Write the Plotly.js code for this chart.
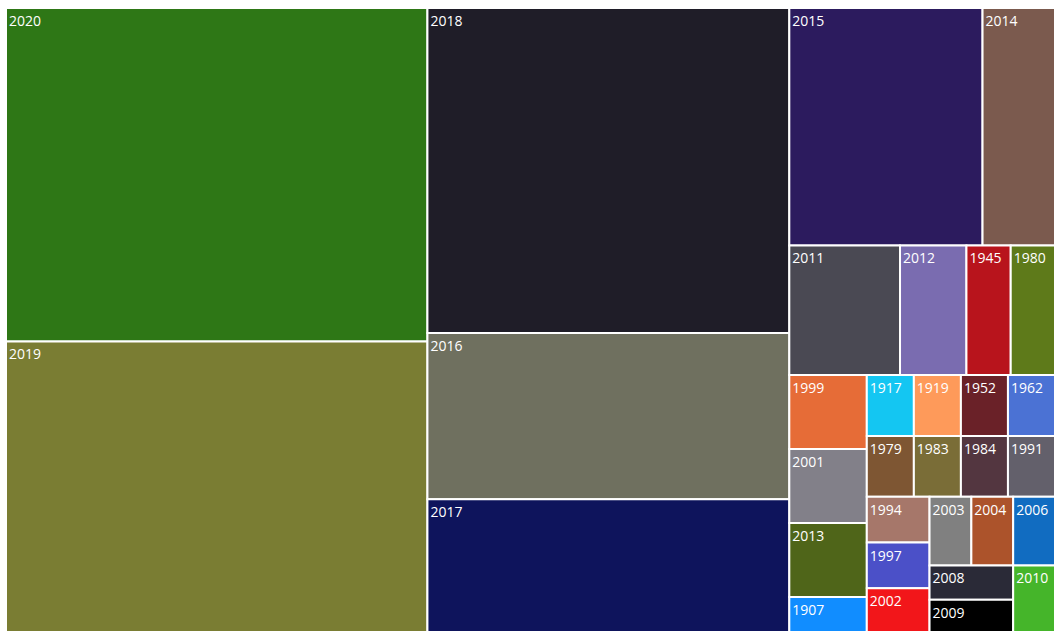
<!DOCTYPE html>
<html>
<head>
<meta charset="utf-8">
<script src="https://cdn.plot.ly/plotly-3.0.1.min.js"></script>
<style>html,body{margin:0;padding:0;overflow:hidden;background:#fff;}</style>
</head>
<body>
<div id="chart" style="width:1056px;height:634px;"></div>
<script>
const years = ["2020","2019","2018","2016","2017","2015","2014","2011","2012","1945","1980","1999","2001","2013",
  "1907","1917","1919","1952","1962","1979","1983","1984","1991","1994","1997","2002","2003","2004","2006","2008","2009","2010"];
const counts = [49,43,41,21,17,16,6,5,3,2,2,2,2,2,
  1,1,1,1,1,1,1,1,1,1,1,1,1,1,1,1,1,1];
const colors = ["#2e7716","#7a7d33","#1f1d28","#6f705f","#0e145c","#2c1b5e","#7b5a4e","#4a4953","#7a6cb0","#b8141c","#5e7a1a","#e66c37","#828089","#4f6519",
  "#118dff","#14c6f2","#fe9a5a","#6a2128","#4b72d4","#7e5633","#7a6d37","#533640","#63606b","#a6776a","#4b50c8","#f2161a","#808080","#ac532b","#116cc1","#2a2a37","#000000","#45b52a"];

const trace = {
  type: "treemap",
  labels: years,
  parents: years.map(() => ""),
  values: counts,
  sort: true,
  textinfo: "label",
  textposition: "top left",
  textfont: {family: "Open Sans, sans-serif", size: 14, color: "#ffffff"},
  marker: {colors: colors, line: {color: "#ffffff", width: 2}, pad: {t: 0, l: 0, r: 0, b: 0}},
  tiling: {packing: "squarify", squarifyratio: 1.57, pad: 0},
  pathbar: {visible: false},
  hoverinfo: "label+value"
};
const layout = {
  width: 1056, height: 634,
  margin: {l: 6, r: 1, t: 8, b: 0},
  paper_bgcolor: "#ffffff",
  showlegend: false
};
Plotly.newPlot("chart", [trace], layout, {displayModeBar: false});
</script>
</body>
</html>
